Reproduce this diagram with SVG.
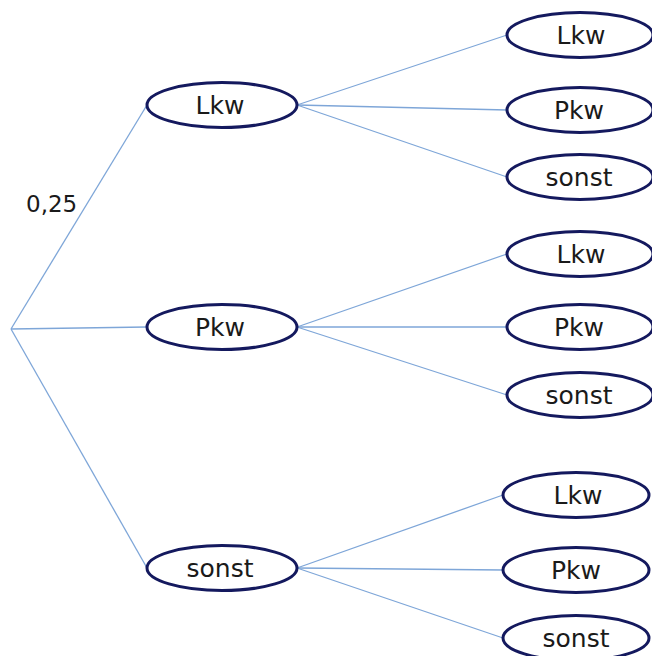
<svg xmlns="http://www.w3.org/2000/svg" width="652" height="656" viewBox="0 0 652 656">
<style>
.n ellipse{fill:#fff;stroke:#14195e;stroke-width:3}
.n text{font-family:"DejaVu Sans",Verdana,sans-serif;font-size:25px;fill:#1a1a1a;text-anchor:middle;dominant-baseline:central}
.c line{stroke:#7ea6d8;stroke-width:1.3}
.lbl{font-family:"DejaVu Sans",Verdana,sans-serif;font-size:23px;fill:#1a1a1a}
</style>
<rect width="652" height="656" fill="#fff"/>
<g id="connectors" class="c">
<line x1="11" y1="329" x2="147" y2="105"/>
<line x1="11" y1="329" x2="147" y2="327"/>
<line x1="11" y1="329" x2="147" y2="568"/>
<line x1="297" y1="105" x2="507" y2="35"/>
<line x1="297" y1="105" x2="507" y2="110"/>
<line x1="297" y1="105" x2="507" y2="177"/>
<line x1="297" y1="327" x2="507" y2="254"/>
<line x1="297" y1="327" x2="507" y2="327"/>
<line x1="297" y1="327" x2="507" y2="395"/>
<line x1="297" y1="568" x2="503" y2="495"/>
<line x1="297" y1="568" x2="503" y2="570"/>
<line x1="297" y1="568" x2="503" y2="638"/>
</g>
<text class="lbl" x="26" y="212">0,25</text>
<g id="n1" class="n"><ellipse cx="222" cy="105" rx="75" ry="22.5"/><text x="220" y="105">Lkw</text></g>
<g id="n2" class="n"><ellipse cx="222" cy="327" rx="75" ry="22.5"/><text x="220" y="327">Pkw</text></g>
<g id="n3" class="n"><ellipse cx="222" cy="568" rx="75" ry="22.5"/><text x="220" y="568">sonst</text></g>
<g id="n11" class="n"><ellipse cx="580" cy="35" rx="73" ry="22.5"/><text x="581" y="35">Lkw</text></g>
<g id="n12" class="n"><ellipse cx="580" cy="110" rx="73" ry="22.5"/><text x="579" y="110">Pkw</text></g>
<g id="n13" class="n"><ellipse cx="580" cy="177" rx="73" ry="22.5"/><text x="579" y="177">sonst</text></g>
<g id="n21" class="n"><ellipse cx="580" cy="254" rx="73" ry="22.5"/><text x="581" y="254">Lkw</text></g>
<g id="n22" class="n"><ellipse cx="580" cy="327" rx="73" ry="22.5"/><text x="579" y="327">Pkw</text></g>
<g id="n23" class="n"><ellipse cx="580" cy="395" rx="73" ry="22.5"/><text x="579" y="395">sonst</text></g>
<g id="n31" class="n"><ellipse cx="576" cy="495" rx="73" ry="22.5"/><text x="578" y="495">Lkw</text></g>
<g id="n32" class="n"><ellipse cx="576" cy="570" rx="73" ry="22.5"/><text x="576" y="570">Pkw</text></g>
<g id="n33" class="n"><ellipse cx="576" cy="638" rx="73" ry="22.5"/><text x="576" y="638">sonst</text></g>
</svg>
